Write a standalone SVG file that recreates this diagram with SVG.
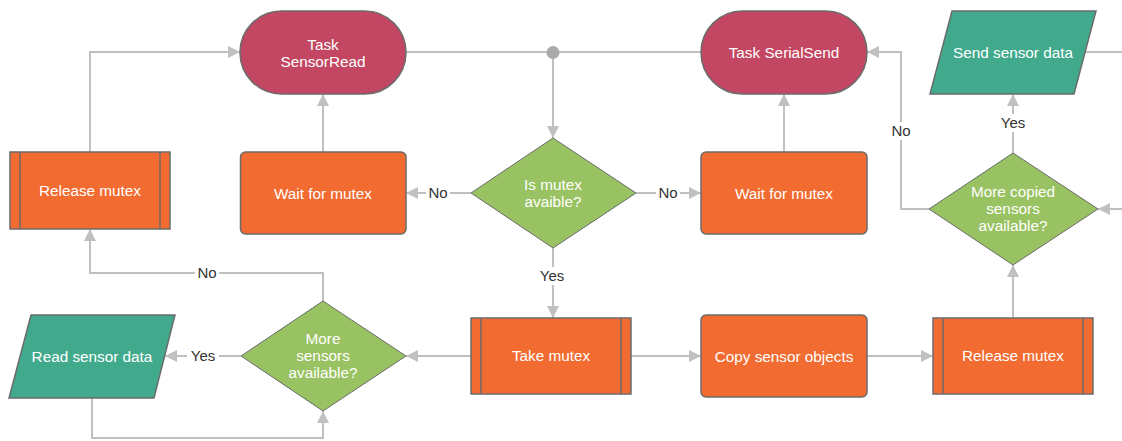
<svg xmlns="http://www.w3.org/2000/svg" width="1122" height="441" viewBox="0 0 1122 441">
<defs>
<marker id="arr" viewBox="0 0 12 12" refX="12" refY="6" markerWidth="12" markerHeight="12" markerUnits="userSpaceOnUse" orient="auto">
<path d="M0,0 L12,6 L0,12 Z" fill="#c0c0c0"/>
</marker>
<style>
.term{fill:#c34762;stroke:#6b6b6b;stroke-width:1.5}
.proc{fill:#f26b31;stroke:#6b6b6b;stroke-width:1.5}
.dec{fill:#99c262;stroke:#6b6b6b;stroke-width:1}
.io{fill:#42aa8c;stroke:#6b6b6b;stroke-width:1.5}
.sub{stroke:#6b6b6b;stroke-width:1.5}
.t{font-family:"Liberation Sans",Arial,sans-serif;font-size:15.3px;fill:#ffffff;text-anchor:middle}
.lbl{font-family:"Liberation Sans",Arial,sans-serif;font-size:15px;fill:#333333;text-anchor:middle}
.c{fill:none;stroke:#c0c0c0;stroke-width:2}
.bg{fill:#ffffff}
</style>
</defs>
<rect width="1122" height="441" fill="#ffffff"/>
<g id="connectors">
<path class="c" d="M90,152 V52 H240" marker-end="url(#arr)"/>
<path class="c" d="M323,152 V94" marker-end="url(#arr)"/>
<path class="c" d="M406,52 H702"/>
<path class="c" d="M553,52 V138" marker-end="url(#arr)"/>
<circle cx="553" cy="52.5" r="6.5" fill="#aaaaaa"/>
<path class="c" d="M471,193 H406" marker-end="url(#arr)"/>
<path class="c" d="M636,193 H701" marker-end="url(#arr)"/>
<path class="c" d="M784,152 V94" marker-end="url(#arr)"/>
<path class="c" d="M553,248 V318" marker-end="url(#arr)"/>
<path class="c" d="M471,356 H406" marker-end="url(#arr)"/>
<path class="c" d="M631,356 H701" marker-end="url(#arr)"/>
<path class="c" d="M867,356 H933" marker-end="url(#arr)"/>
<path class="c" d="M1013,318 V265" marker-end="url(#arr)"/>
<path class="c" d="M1013,153 V94" marker-end="url(#arr)"/>
<path class="c" d="M929,209 H901 V52 H867" marker-end="url(#arr)"/>
<path class="c" d="M1122,209 H1098" marker-end="url(#arr)"/>
<path class="c" d="M1085,52 H1122"/>
<path class="c" d="M241,356 H165" marker-end="url(#arr)"/>
<path class="c" d="M323,301 V273 H90 V229" marker-end="url(#arr)"/>
<path class="c" d="M92,398 V438 H323 V411" marker-end="url(#arr)"/>
<rect class="bg" x="426" y="184" width="24" height="18"/>
<text class="lbl" x="438" y="198">No</text>
<rect class="bg" x="656" y="184" width="24" height="18"/>
<text class="lbl" x="668" y="198">No</text>
<rect class="bg" x="537" y="267" width="32" height="18"/>
<text class="lbl" x="552" y="281">Yes</text>
<rect class="bg" x="997" y="114" width="32" height="18"/>
<text class="lbl" x="1013" y="128">Yes</text>
<rect class="bg" x="889" y="122" width="24" height="18"/>
<text class="lbl" x="901" y="136">No</text>
<rect class="bg" x="195" y="264" width="24" height="18"/>
<text class="lbl" x="207" y="278">No</text>
<rect class="bg" x="187" y="347" width="32" height="18"/>
<text class="lbl" x="203" y="361">Yes</text>
</g>
<g id="task-sensorread">
<rect class="term" x="240" y="11" width="166" height="83" rx="41.5"/>
<text class="t" x="323" y="50">Task</text>
<text class="t" x="323" y="67">SensorRead</text>
</g>
<g id="task-serialsend">
<rect class="term" x="701" y="11" width="166" height="83" rx="41.5"/>
<text class="t" x="784" y="58">Task SerialSend</text>
</g>
<g id="send-sensor-data">
<polygon class="io" points="952,11 1096,11 1074,94 930,94"/>
<text class="t" x="1013" y="58">Send sensor data</text>
</g>
<g id="release-mutex-left">
<rect class="proc" x="10" y="152" width="160" height="77"/>
<line class="sub" x1="20" y1="152" x2="20" y2="229"/>
<line class="sub" x1="160" y1="152" x2="160" y2="229"/>
<text class="t" x="90" y="196">Release mutex</text>
</g>
<g id="wait-mutex-left">
<rect class="proc" x="240.5" y="152" width="165.5" height="82" rx="5"/>
<text class="t" x="323" y="199">Wait for mutex</text>
</g>
<g id="is-mutex-available">
<polygon class="dec" points="553,138 636,193 553,248 471,193"/>
<text class="t" x="553" y="190">Is mutex</text>
<text class="t" x="553" y="207">avaible?</text>
</g>
<g id="wait-mutex-right">
<rect class="proc" x="701" y="152" width="166" height="82" rx="5"/>
<text class="t" x="784" y="199">Wait for mutex</text>
</g>
<g id="more-copied">
<polygon class="dec" points="1013,153 1098,209 1013,265 929,209"/>
<text class="t" x="1013" y="197">More copied</text>
<text class="t" x="1013" y="214">sensors</text>
<text class="t" x="1013" y="231">available?</text>
</g>
<g id="read-sensor-data">
<polygon class="io" points="31,315 175,315 154,398 9,398"/>
<text class="t" x="92" y="362">Read sensor data</text>
</g>
<g id="more-sensors">
<polygon class="dec" points="323,301 406,356 323,411 241,356"/>
<text class="t" x="323" y="344">More</text>
<text class="t" x="323" y="361">sensors</text>
<text class="t" x="323" y="378">available?</text>
</g>
<g id="take-mutex">
<rect class="proc" x="471" y="318" width="160" height="76"/>
<line class="sub" x1="481" y1="318" x2="481" y2="394"/>
<line class="sub" x1="621" y1="318" x2="621" y2="394"/>
<text class="t" x="551" y="361">Take mutex</text>
</g>
<g id="copy-sensor-objects">
<rect class="proc" x="701" y="315" width="166" height="82" rx="5"/>
<text class="t" x="784" y="362">Copy sensor objects</text>
</g>
<g id="release-mutex-right">
<rect class="proc" x="933" y="318" width="160" height="76"/>
<line class="sub" x1="943" y1="318" x2="943" y2="394"/>
<line class="sub" x1="1083" y1="318" x2="1083" y2="394"/>
<text class="t" x="1013" y="361">Release mutex</text>
</g>
</svg>
